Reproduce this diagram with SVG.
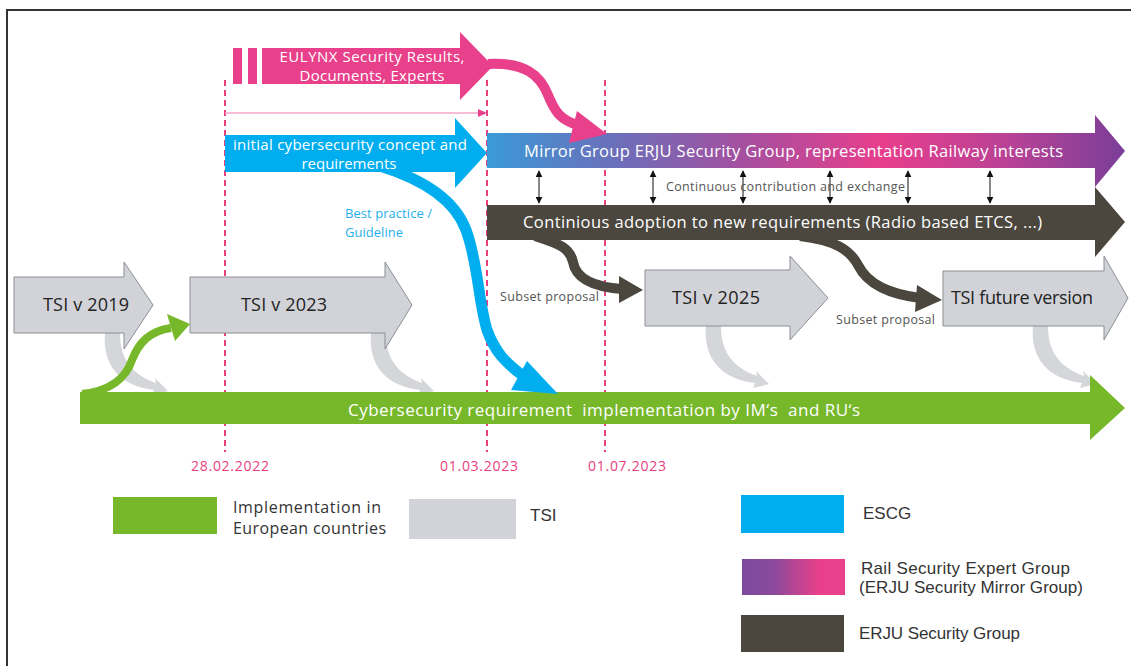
<svg xmlns="http://www.w3.org/2000/svg" width="1131" height="666" viewBox="0 0 1131 666">
<defs>
<linearGradient id="gMirror" gradientUnits="userSpaceOnUse" x1="487" y1="0" x2="1125" y2="0">
<stop offset="0" stop-color="#3a9ad8"/>
<stop offset="0.2" stop-color="#6b6fba"/>
<stop offset="0.4" stop-color="#a4509f"/>
<stop offset="0.62" stop-color="#e83e8c"/>
<stop offset="0.82" stop-color="#b84296"/>
<stop offset="1" stop-color="#7a3e98"/>
</linearGradient>
<linearGradient id="gLegend" x1="0" y1="0" x2="1" y2="0">
<stop offset="0" stop-color="#7b4a9e"/>
<stop offset="0.3" stop-color="#8a4a9c"/>
<stop offset="0.75" stop-color="#e8408a"/>
<stop offset="1" stop-color="#e8408a"/>
</linearGradient>
<marker id="mDbl" viewBox="0 0 10 10" refX="9" refY="5" markerWidth="7" markerHeight="7" markerUnits="userSpaceOnUse" orient="auto-start-reverse">
<path d="M0,0 L10,5 L0,10 Z" fill="#111"/>
</marker>
<path id="swoosh" d="M3,0 L18,0 C18,22 26,40 54,50 L53,45 L66,58 L50,62 L52,57 C18,53 0,32 3,0 Z"/>
<style>
.tsi{fill:#d1d3d8;stroke:#8c8f94;stroke-width:1}
.sw{fill:#d4d6da}
.dash{stroke:#e8407f;stroke-width:2;stroke-dasharray:6 4;fill:none}
.db{font-family:"Open Sans",Lato,"Liberation Sans",sans-serif}
.w{fill:#ffffff}
.ar{font-family:"Liberation Sans",Arial,sans-serif;fill:#333333;font-size:17px}
.small{font-size:12.5px;fill:#555555}
.date{font-size:14px;fill:#e8407f}
.dbl{stroke:#111;stroke-width:1;marker-start:url(#mDbl);marker-end:url(#mDbl)}
</style>
</defs>
<rect x="7" y="10" width="1140" height="680" fill="#ffffff" stroke="#333333" stroke-width="2"/>

<g id="timeline-markers">
<line class="dash" x1="225" y1="80" x2="225" y2="452"/>
<line class="dash" x1="487" y1="80" x2="487" y2="452"/>
<line class="dash" x1="605" y1="80" x2="605" y2="452"/>
<text class="db date" x="230" y="471" text-anchor="middle" textLength="78">28.02.2022</text>
<text class="db date" x="479" y="471" text-anchor="middle" textLength="78">01.03.2023</text>
<text class="db date" x="627" y="471" text-anchor="middle" textLength="78">01.07.2023</text>
</g>

<g id="connectors">
<line x1="225" y1="113" x2="480" y2="113" stroke="#f4a6c8" stroke-width="1.5"/>
<path d="M478,109 L487,113 L478,117 Z" fill="#e8408a"/>
<use href="#swoosh" class="sw" x="102" y="333"/>
<use href="#swoosh" class="sw" x="368" y="333"/>
<use href="#swoosh" class="sw" x="703" y="326"/>
<use href="#swoosh" class="sw" x="1030" y="326"/>
</g>

<g id="tsi2019"><path class="tsi" d="M14,277 H124 V262 L153,305 L124,349 V333 H14 Z"/><text class="db" x="86" y="311" text-anchor="middle" font-size="18" fill="#222" textLength="86">TSI v 2019</text></g>
<g id="tsi2023"><path class="tsi" d="M190,277 H385 V262 L412,305 L385,349 V333 H190 Z"/><text class="db" x="284" y="311" text-anchor="middle" font-size="18" fill="#222" textLength="86">TSI v 2023</text></g>
<g id="tsi2025"><path class="tsi" d="M645,270 H790 V256 L828,298 L790,340 V326 H645 Z"/><text class="db" x="716" y="304" text-anchor="middle" font-size="18" fill="#222" textLength="88">TSI v 2025</text></g>
<g id="tsifuture"><path class="tsi" d="M943,271 H1104 V256 L1128,298 L1104,340 V326 H943 Z"/><text class="db" x="1022" y="304" text-anchor="middle" font-size="18" fill="#222" textLength="142">TSI future version</text></g>

<g id="implementation">
<path d="M80,392 H1090 V375 L1125,408 L1090,440 V424 H80 Z" fill="#76b82a"/>
<text class="db w" x="604" y="416" text-anchor="middle" font-size="17" textLength="512" style="white-space:pre">Cybersecurity requirement  implementation by IM‘s  and RU‘s</text>
</g>

<g id="green-link">
<path d="M82,394 C110,391 126,378 132,360 C139,342 150,331 171,328" fill="none" stroke="#76b82a" stroke-width="8"/>
<path d="M167,314 L190,324 L175,341 Z" fill="#76b82a"/>
</g>

<g id="best-practice">
<path d="M380,166 C425,180 455,200 466,230 C478,262 478,300 487,330 C495,352 505,362 522,375" fill="none" stroke="#00aeef" stroke-width="11"/>
<path d="M527,361 L558,394 L511,390 Z" fill="#00aeef"/>
<text class="db" x="345" y="218" font-size="13" fill="#1fb0ea" textLength="87">Best practice /</text>
<text class="db" x="345" y="237" font-size="13" fill="#1fb0ea" textLength="58">Guideline</text>
</g>

<g id="escg">
<path d="M225,135 H455 V118 L487,153 L455,188 V172 H225 Z" fill="#00aeef"/>
<text class="db w" x="350" y="150" text-anchor="middle" font-size="15" textLength="234">initial cybersecurity concept and</text>
<text class="db w" x="349" y="169" text-anchor="middle" font-size="15" textLength="95">requirements</text>
</g>

<g id="mirror">
<path d="M487,133 H1095 V115 L1125,151 L1095,187 V168 H487 Z" fill="url(#gMirror)"/>
<text class="db w" x="524" y="157" font-size="16.5" textLength="539">Mirror Group ERJU Security Group, representation Railway interests</text>
</g>

<g id="eulynx">
<rect x="233" y="48" width="9" height="36" fill="#e8408a"/>
<rect x="248" y="48" width="9" height="36" fill="#e8408a"/>
<path d="M262,48 H460 V32 L493,66 L460,100 V84 H262 Z" fill="#e8408a"/>
<text class="db w" x="372" y="62" text-anchor="middle" font-size="15" textLength="185">EULYNX Security Results,</text>
<text class="db w" x="372" y="81" text-anchor="middle" font-size="15" textLength="145">Documents, Experts</text>
</g>

<g id="eulynx-link">
<path d="M488,64 C525,62 540,75 548,95 C555,112 560,120 580,126" fill="none" stroke="#e8408a" stroke-width="10"/>
<path d="M577,111 L607,134 L569,143 Z" fill="#e8408a"/>
</g>

<g id="exchange">
<line class="dbl" x1="539" y1="171" x2="539" y2="203"/>
<line class="dbl" x1="653" y1="171" x2="653" y2="203"/>
<line class="dbl" x1="743" y1="171" x2="743" y2="203"/>
<line class="dbl" x1="830" y1="171" x2="830" y2="203"/>
<line class="dbl" x1="908" y1="171" x2="908" y2="203"/>
<line class="dbl" x1="990" y1="171" x2="990" y2="203"/>
<text class="db small" x="666" y="191" fill="#666" textLength="239">Continuous contribution and exchange</text>
</g>

<g id="erju-dark">
<path d="M535,236 C560,244 570,248 573,262 C576,280 595,287 622,289" fill="none" stroke="#4b473f" stroke-width="10"/>
<path d="M619,276 L643,290 L619,303 Z" fill="#4b473f"/>
<path d="M800,236 C835,240 850,250 858,265 C868,285 890,294 920,298" fill="none" stroke="#4b473f" stroke-width="10"/>
<path d="M917,285 L942,300 L915,312 Z" fill="#4b473f"/>
<path d="M487,205 H1095 V187 L1125,222 L1095,257 V240 H487 Z" fill="#4b473f"/>
<text class="db w" x="523" y="228" font-size="16.5" textLength="519">Continious adoption to new requirements (Radio based ETCS, ...)</text>
<text class="db small" x="500" y="301" textLength="99">Subset proposal</text>
<text class="db small" x="836" y="324" textLength="99">Subset proposal</text>
</g>

<g id="legend">
<rect x="113" y="497" width="104" height="37" fill="#76b82a"/>
<text class="db" x="233" y="513" font-size="16" fill="#333" textLength="148">Implementation in</text>
<text class="db" x="233" y="534" font-size="16" fill="#333" textLength="153">European countries</text>
<rect x="409" y="499" width="107" height="40" fill="#d1d3d8"/>
<text class="ar" x="530" y="521">TSI</text>
<rect x="741" y="495" width="103" height="38" fill="#00aeef"/>
<text class="ar" x="863" y="519">ESCG</text>
<rect x="742" y="559" width="103" height="36" fill="url(#gLegend)"/>
<text class="ar" x="861" y="574" textLength="209">Rail Security Expert Group</text>
<text class="ar" x="859" y="593" textLength="224">(ERJU Security Mirror Group)</text>
<rect x="741" y="615" width="103" height="37" fill="#4b473f"/>
<text class="ar" x="859" y="639" textLength="161">ERJU Security Group</text>
</g>
</svg>
